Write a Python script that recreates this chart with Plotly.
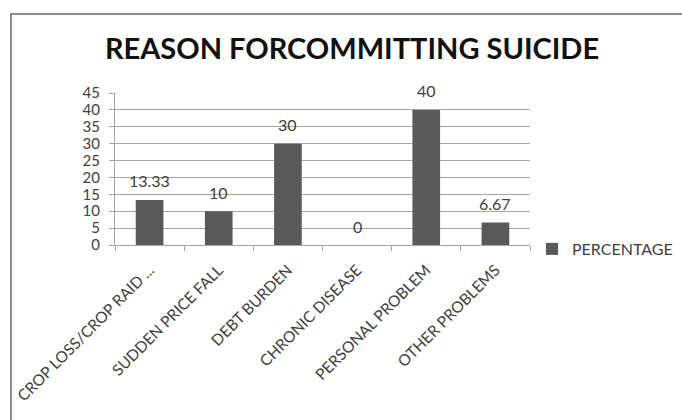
import plotly.graph_objects as go

categories = ["CROP LOSS/CROP RAID ...", "SUDDEN PRICE FALL", "DEBT BURDEN",
              "CHRONIC DISEASE", "PERSONAL PROBLEM", "OTHER PROBLEMS"]
percentage = [13.33, 10, 30, 0, 40, 6.67]
value_labels = ["13.33", "10", "30", "0", "40", "6.67"]
y_ticks = [0, 5, 10, 15, 20, 25, 30, 35, 40, 45]

FONT = "Lato, Open Sans, sans-serif"
TEXT = "#404040"
W, H = 682, 420
L, R, T, B = 115, 152, 93, 175

fig = go.Figure()
fig.add_trace(go.Bar(
    x=categories, y=percentage, name="PERCENTAGE",
    marker=dict(color="#595959", line=dict(width=0)),
    width=0.40,
))

# value labels above each bar
for cat, val, lab in zip(categories, percentage, value_labels):
    fig.add_annotation(x=cat, y=val, text=lab, showarrow=False,
                       yanchor="middle", yshift=19,
                       font=dict(size=16, color=TEXT, family=FONT))

fig.update_layout(
    width=W, height=H,
    margin=dict(l=L, r=R, t=T, b=B, autoexpand=False),
    paper_bgcolor="white", plot_bgcolor="white",
    font=dict(family=FONT, color=TEXT, size=15),
    title=dict(text="<b>REASON FORCOMMITTING SUICIDE</b>",
               x=352 / W, xanchor="center", xref="container",
               y=1 - 49 / H, yanchor="middle", yref="container",
               font=dict(size=29, color="#111111", family=FONT)),
    showlegend=True,
    legend=dict(x=(532 - L) / (W - L - R), xanchor="left",
                y=-4 / (H - T - B), yanchor="middle",
                font=dict(size=16, color=TEXT, family=FONT),
                itemwidth=30, bgcolor="rgba(0,0,0,0)"),
)

fig.update_xaxes(
    type="category", tickangle=-45, automargin=False,
    showline=True, linecolor="#a6a6a6", linewidth=1,
    ticks="outside", tickson="boundaries", ticklen=5, tickcolor="#a6a6a6",
    showgrid=False, ticklabelstandoff=9,
    tickfont=dict(size=15.5, color=TEXT, family=FONT),
)
fig.update_yaxes(
    range=[0, 45], tickvals=y_ticks, automargin=False,
    showline=True, linecolor="#a6a6a6", linewidth=1,
    ticks="outside", ticklen=5, tickcolor="#a6a6a6",
    showgrid=True, gridcolor="#a6a6a6", gridwidth=1,
    zeroline=False, ticklabelstandoff=6,
    tickfont=dict(size=15, color=TEXT, family=FONT),
)

# chart frame around the whole drawing
pw, ph = W - L - R, H - T - B
fig.add_shape(type="rect", xref="paper", yref="paper",
              x0=(11 - L) / pw, x1=(W + 20 - L) / pw,
              y0=-(B + 20) / ph, y1=1 + (T - 14) / ph,
              line=dict(color="#8c8c8c", width=2), fillcolor="rgba(0,0,0,0)",
              layer="below")

fig.write_html("out.html")
